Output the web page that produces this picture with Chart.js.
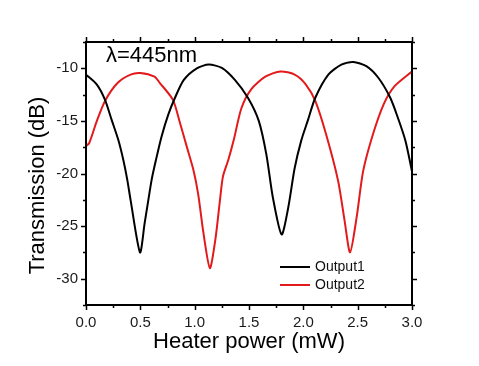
<!DOCTYPE html>
<html>
<head>
<meta charset="utf-8">
<script src="https://cdn.jsdelivr.net/npm/chart.js@4.4.1/dist/chart.umd.min.js"></script>
<style>
  html, body { margin: 0; padding: 0; background: #fff; }
  #wrap { width: 479px; height: 366px; }
</style>
</head>
<body>
<div id="wrap"><canvas id="chart" width="479" height="366"></canvas></div>
<script>
// Heater power (mW) and transmission (dB)
const out1Power = [0, 0.10, 0.175, 0.236, 0.297, 0.343, 0.38, 0.41, 0.497, 0.54, 0.574, 0.604, 0.644, 0.695, 0.757, 0.819, 0.90, 1.02, 1.13, 1.25, 1.37, 1.49, 1.59, 1.66, 1.72, 1.80, 1.86, 1.92, 1.98, 2.04, 2.11, 2.23, 2.35, 2.46, 2.58, 2.69, 2.80, 2.87, 2.94, 3.0];
const out1Trans = [-10.6, -11.55, -13.0, -14.9, -16.8, -18.7, -20.6, -22.5, -27.5, -24.7, -22.5, -20.6, -18.7, -16.5, -14.4, -12.8, -11.1, -10.0, -9.65, -9.96, -11.1, -12.8, -15.0, -18.2, -22.3, -25.8, -23.3, -19.5, -16.9, -15.0, -12.8, -10.6, -9.65, -9.4, -9.8, -10.9, -12.8, -14.7, -16.9, -19.8];

const out2Power = [0, 0.03, 0.10, 0.175, 0.29, 0.41, 0.50, 0.63, 0.68, 0.80, 0.865, 0.926, 0.987, 1.033, 1.08, 1.14, 1.19, 1.23, 1.26, 1.31, 1.36, 1.43, 1.52, 1.65, 1.79, 1.92, 2.02, 2.11, 2.21, 2.32, 2.38, 2.43, 2.49, 2.55, 2.64, 2.74, 2.84, 3.0];
const out2Trans = [-17.4, -17.1, -15.0, -13.1, -11.4, -10.6, -10.45, -10.8, -11.4, -13.0, -15.2, -17.4, -19.6, -22.0, -25.6, -29.0, -26.3, -22.8, -20.3, -18.7, -16.8, -13.8, -12.0, -10.8, -10.3, -10.6, -11.5, -13.1, -16.3, -20.7, -24.5, -27.5, -24.2, -19.8, -16.3, -13.4, -11.7, -10.3];

const seriesLabels = ['Output1', 'Output2'];
const xRange = [0, 3];
const yRange = [-32.5, -7.5];
const annotationText = '\u03bb=445nm';

const FONT = "'Liberation Sans', Arial, sans-serif";

function toPoints(xs, ys) {
    return xs.map((x, i) => ({ x: x, y: ys[i] }));
}

// Frame, mirrored ticks, y title, annotation and in-plot legend
const framePlugin = {
    id: 'frame',
    afterDraw(chart) {
        const ctx = chart.ctx;
        const area = chart.chartArea;
        const xs = chart.scales.x;
        const ys = chart.scales.y;
        ctx.save();
        ctx.strokeStyle = '#000';
        ctx.lineWidth = 1.5;
        ctx.beginPath();
        xs.ticks.forEach(t => {
            const px = Math.round(xs.getPixelForValue(t.value)) + 0.5;
            const major = Math.abs(t.value * 2 - Math.round(t.value * 2)) < 1e-6;
            const len = major ? 5 : 3;
            ctx.moveTo(px, area.bottom); ctx.lineTo(px, area.bottom + len);
            ctx.moveTo(px, area.top); ctx.lineTo(px, area.top - len);
        });
        ys.ticks.forEach(t => {
            const py = Math.round(ys.getPixelForValue(t.value)) + 0.5;
            const major = Math.abs(t.value / 5 - Math.round(t.value / 5)) < 1e-6;
            const len = major ? 5 : 3;
            ctx.moveTo(area.left, py); ctx.lineTo(area.left - len, py);
            ctx.moveTo(area.right, py); ctx.lineTo(area.right + len, py);
        });
        ctx.stroke();
        ctx.lineWidth = 2;
        ctx.strokeRect(area.left, area.top, area.right - area.left, area.bottom - area.top);

        // y axis title
        ctx.fillStyle = '#000';
        ctx.font = '22px ' + FONT;
        ctx.textAlign = 'center';
        ctx.textBaseline = 'middle';
        ctx.translate(38, (area.top + area.bottom) / 2 + 12);
        ctx.rotate(-Math.PI / 2);
        ctx.fillText('Transmission (dB)', 0, 0);
        ctx.restore();

        ctx.save();
        ctx.fillStyle = '#000';
        ctx.font = '22px ' + FONT;
        ctx.textAlign = 'left';
        ctx.textBaseline = 'alphabetic';
        ctx.fillText(annotationText, area.left + 20, area.top + 20);

        // legend
        ctx.font = '14px ' + FONT;
        ctx.textBaseline = 'middle';
        chart.data.datasets.forEach((ds, i) => {
            const y = area.bottom - 38 + i * 18;
            ctx.strokeStyle = ds.borderColor;
            ctx.lineWidth = 2;
            ctx.beginPath();
            ctx.moveTo(area.right - 132, y);
            ctx.lineTo(area.right - 102, y);
            ctx.stroke();
            ctx.fillStyle = '#111';
            ctx.fillText(ds.label, area.right - 97, y);
        });
        ctx.restore();
    }
};

new Chart(document.getElementById('chart'), {
    type: 'scatter',
    data: {
        datasets: [{
            label: seriesLabels[0],
            data: toPoints(out1Power, out1Trans),
            showLine: true,
            borderColor: '#000000',
            borderWidth: 2,
            pointRadius: 0,
            tension: 0.25
        }, {
            label: seriesLabels[1],
            data: toPoints(out2Power, out2Trans),
            showLine: true,
            borderColor: '#e31a1c',
            borderWidth: 2,
            pointRadius: 0,
            tension: 0.25
        }]
    },
    options: {
        responsive: false,
        animation: false,
        layout: { padding: { left: 0, top: 42, right: 67, bottom: 0 } },
        plugins: {
            legend: { display: false },
            tooltip: { enabled: false }
        },
        scales: {
            x: {
                type: 'linear',
                min: xRange[0],
                max: xRange[1],
                grid: { display: false, drawTicks: false },
                border: { display: false },
                ticks: {
                    stepSize: 0.25,
                    autoSkip: false,
                    maxRotation: 0,
                    padding: 9,
                    color: '#1a1a1a',
                    font: { family: FONT, size: 15 },
                    callback: v => (Math.abs(v * 2 - Math.round(v * 2)) < 1e-6 ? v.toFixed(1) : '')
                },
                title: {
                    display: true,
                    text: 'Heater power (mW)',
                    color: '#000',
                    font: { family: FONT, size: 22 },
                    padding: { top: 0, bottom: 11 }
                },
                afterFit: scale => { scale.height = 61; }
            },
            y: {
                type: 'linear',
                min: yRange[0],
                max: yRange[1],
                grid: { display: false, drawTicks: false },
                border: { display: false },
                ticks: {
                    stepSize: 2.5,
                    autoSkip: false,
                    padding: 8,
                    color: '#1a1a1a',
                    font: { family: FONT, size: 15 },
                    callback: v => (Math.abs(v / 5 - Math.round(v / 5)) < 1e-6 && v > -32 && v < -8 ? String(v) : '')
                },
                afterFit: scale => { scale.width = 86; }
            }
        }
    },
    plugins: [framePlugin]
});
</script>
</body>
</html>
